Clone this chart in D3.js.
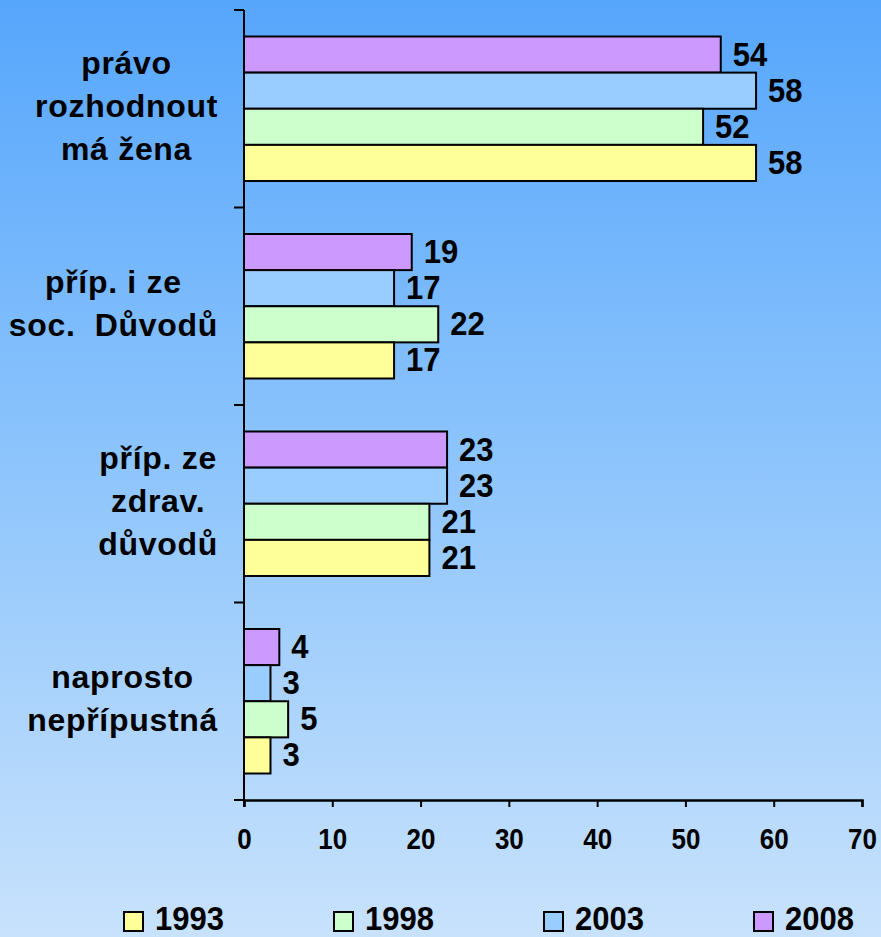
<!DOCTYPE html>
<html>
<head>
<meta charset="utf-8">
<script src="https://cdn.jsdelivr.net/npm/d3@7"></script>
<style>
  html, body { margin: 0; padding: 0; }
  body { width: 881px; height: 937px; overflow: hidden; }
  svg text { font-family: "Liberation Sans", Arial, sans-serif; font-weight: bold; fill: #000; }
</style>
</head>
<body>
<script>
// Názory na potrat – podíl odpovědí (%) v jednotlivých letech
const categories = [
  ["právo", "rozhodnout", "má žena"],
  ["příp. i ze", "soc.  Důvodů"],
  ["příp. ze", "zdrav.", "důvodů"],
  ["naprosto", "nepřípustná"]
];
const years = ["1993", "1998", "2003", "2008"];
const values1993 = [58, 17, 21, 3];
const values1998 = [52, 22, 21, 5];
const values2003 = [58, 17, 23, 3];
const values2008 = [54, 19, 23, 4];
const xTicks = [0, 10, 20, 30, 40, 50, 60, 70];
const colors = { "1993": "#ffff99", "1998": "#ccffcc", "2003": "#99ccff", "2008": "#cc99ff" };

const seriesByYear = { "1993": values1993, "1998": values1998, "2003": values2003, "2008": values2008 };
// bars inside a group run from the newest year (top) to the oldest (bottom)
const barOrder = ["2008", "2003", "1998", "1993"];

const W = 881, H = 937;
const svg = d3.select("body").append("svg").attr("width", W).attr("height", H);

const defs = svg.append("defs");
const grad = defs.append("linearGradient").attr("id", "bg").attr("x1", 0).attr("y1", 0).attr("x2", 0).attr("y2", 1);
grad.append("stop").attr("offset", "0%").attr("stop-color", "#56a6fc");
grad.append("stop").attr("offset", "50%").attr("stop-color", "#8ec5fc");
grad.append("stop").attr("offset", "100%").attr("stop-color", "#c8e2fc");
svg.append("rect").attr("width", W).attr("height", H).attr("fill", "url(#bg)");

const x = d3.scaleLinear().domain([0, 70]).range([244, 862]);
const y = d3.scaleBand().domain(d3.range(categories.length)).range([10, 800]).padding(0);
const yInner = d3.scaleBand().domain(barOrder).range([26.5, y.bandwidth() - 26.5]).padding(0);

// bars
const groups = svg.selectAll("g.grp").data(categories.map((c, i) => i)).join("g")
  .attr("class", "grp")
  .attr("transform", i => `translate(0,${y(i)})`);

groups.each(function (i) {
  const g = d3.select(this);
  barOrder.forEach(yr => {
    const v = seriesByYear[yr][i];
    g.append("rect")
      .attr("x", x(0))
      .attr("y", yInner(yr))
      .attr("width", x(v) - x(0))
      .attr("height", yInner.bandwidth())
      .attr("fill", colors[yr])
      .attr("stroke", "#000")
      .attr("stroke-width", 2);
    g.append("text")
      .attr("transform", `translate(${x(v) + 12},${yInner(yr) + yInner.bandwidth() / 2 + 11}) scale(1,1.05)`)
      .attr("font-size", 31)
      .text(v);
  });
});

// category axis: vertical line with ticks at group boundaries
const yAxis = svg.append("g").attr("stroke", "#000").attr("stroke-width", 2);
yAxis.append("line").attr("x1", x(0)).attr("x2", x(0)).attr("y1", y(0)).attr("y2", y.range()[1] + 7);
const bounds = categories.map((c, i) => y(i)).concat([y.range()[1]]);
yAxis.selectAll("line.tk").data(bounds).join("line")
  .attr("class", "tk")
  .attr("x1", x(0) - 10).attr("x2", x(0))
  .attr("y1", d => d).attr("y2", d => d);

// value axis
const xAxisG = svg.append("g")
  .attr("transform", `translate(0,${y.range()[1]})`)
  .call(d3.axisBottom(x).tickValues(xTicks).tickSize(7).tickSizeOuter(7).tickPadding(14).tickFormat(d3.format("d")));
xAxisG.select(".domain").attr("stroke", "#000").attr("stroke-width", 2.5);
xAxisG.selectAll(".tick line").attr("stroke", "#000").attr("stroke-width", 2);
xAxisG.selectAll(".tick text")
  .attr("font-size", 26)
  .attr("font-family", "Liberation Sans, Arial, sans-serif")
  .attr("font-weight", "bold")
  .attr("fill", "#000")
  .attr("dy", null)
  .attr("y", 0)
  .attr("transform", "translate(0,49) scale(1,1.12)");

// category labels: block right-aligned, lines centred inside the block
const lineH = 43;
categories.forEach((lines, i) => {
  const cy = y(i) + y.bandwidth() / 2 + 8;
  const g = svg.append("g");
  const texts = lines.map((ln, k) => g.append("text")
    .attr("font-size", 32)
    .attr("letter-spacing", 0.7)
    .attr("text-anchor", "middle")
    .style("white-space", "pre")
    .attr("y", cy + (k - (lines.length - 1) / 2) * lineH)
    .text(ln));
  const widths = texts.map(t => t.node().getComputedTextLength());
  const bw = d3.max(widths);
  texts.forEach(t => t.attr("x", 218 - bw / 2));
});

// legend
const legend = svg.append("g");
years.forEach((yr, k) => {
  const lx = 124 + k * 210;
  legend.append("rect")
    .attr("x", lx).attr("y", 912).attr("width", 19).attr("height", 19)
    .attr("fill", colors[yr]).attr("stroke", "#000").attr("stroke-width", 2);
  legend.append("text")
    .attr("transform", `translate(${lx + 31},930) scale(1,1.05)`)
    .attr("font-size", 31)
    .text(yr);
});
</script>
</body>
</html>
